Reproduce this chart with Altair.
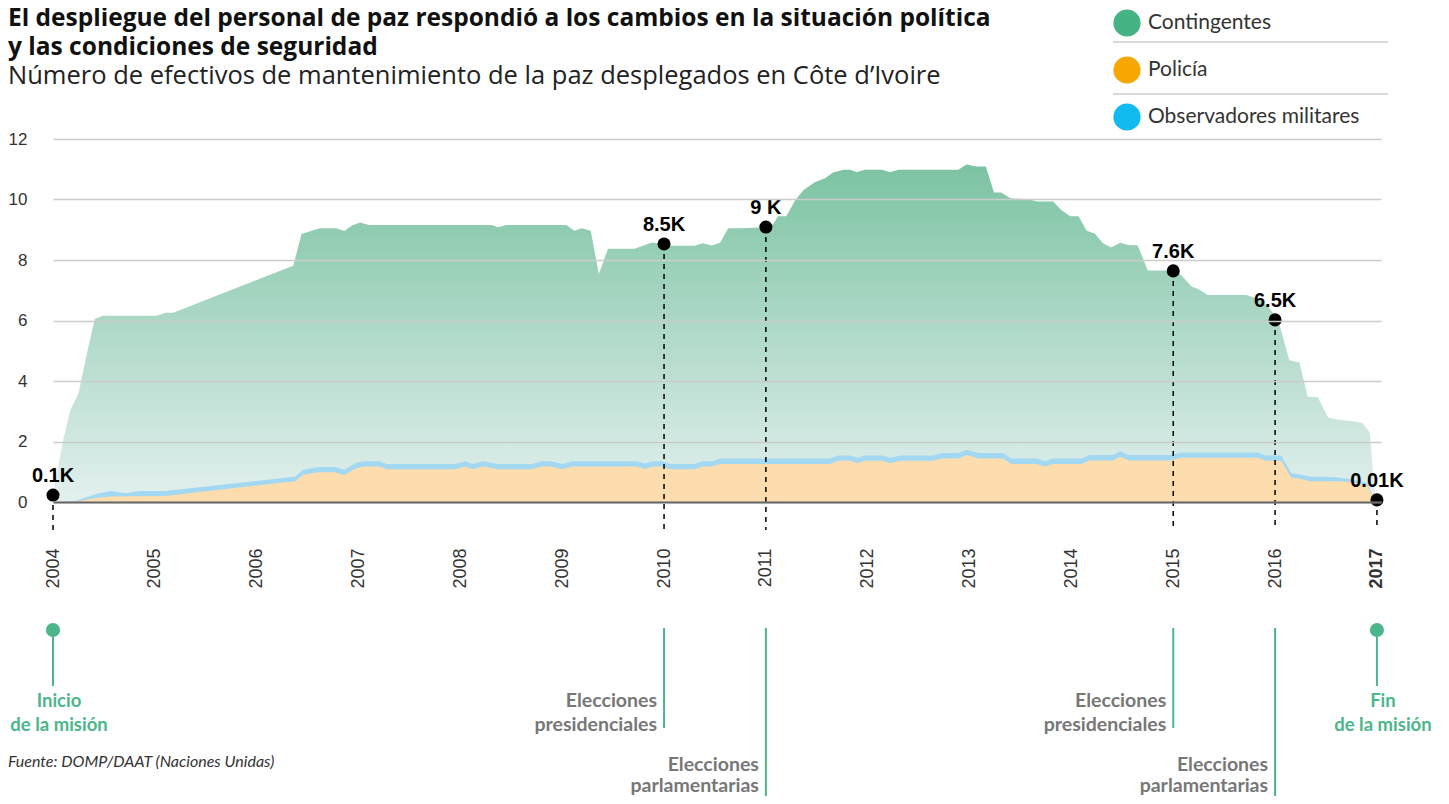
import altair as alt
import pandas as pd

# ---------------- data ----------------
total_years = [2004.00, 2004.10, 2004.17, 2004.25, 2004.34, 2004.41, 2004.49, 2005.02, 2005.10, 2005.18,
               2006.36, 2006.44, 2006.62, 2006.78, 2006.86, 2006.94, 2007.02, 2007.10, 2008.31, 2008.37,
               2008.45, 2009.04, 2009.12, 2009.19, 2009.28, 2009.36, 2009.45, 2009.71, 2009.88, 2010.00,
               2010.04, 2010.30, 2010.38, 2010.47, 2010.55, 2010.63, 2010.78, 2011.00, 2011.05, 2011.12,
               2011.20, 2011.29, 2011.37, 2011.48, 2011.58, 2011.66, 2011.76, 2011.83, 2011.89, 2011.97,
               2012.14, 2012.22, 2012.30, 2012.89, 2012.97, 2013.07, 2013.16, 2013.24, 2013.31, 2013.40,
               2013.58, 2013.66, 2013.82, 2013.90, 2013.99, 2014.07, 2014.15, 2014.23, 2014.31, 2014.39,
               2014.48, 2014.57, 2014.65, 2014.75, 2015.00, 2015.08, 2015.18, 2015.25, 2015.34, 2015.72,
               2015.82, 2015.93, 2016.03, 2016.14, 2016.24, 2016.32, 2016.42, 2016.52, 2016.61, 2016.80,
               2016.86, 2016.93, 2016.98, 2017.00]
total_values = [0.23, 2.05, 3.04, 3.59, 5.02, 6.05, 6.16, 6.16, 6.26, 6.26,
                7.81, 8.86, 9.05, 9.05, 8.96, 9.15, 9.24, 9.16, 9.16, 9.08,
                9.16, 9.16, 8.97, 9.05, 8.97, 7.54, 8.37, 8.37, 8.58, 8.53,
                8.47, 8.47, 8.55, 8.48, 8.57, 9.05, 9.05, 9.09, 9.08, 9.45,
                9.45, 9.98, 10.31, 10.57, 10.70, 10.89, 10.98, 10.98, 10.90, 10.98,
                10.98, 10.90, 10.98, 10.98, 11.16, 11.09, 11.09, 10.23, 10.23, 10.04,
                10.01, 9.93, 9.93, 9.65, 9.45, 9.45, 8.97, 8.88, 8.55, 8.41,
                8.57, 8.49, 8.49, 7.65, 7.65, 7.50, 7.12, 7.03, 6.84, 6.84,
                6.73, 6.46, 6.02, 4.69, 4.61, 3.48, 3.46, 2.79, 2.73, 2.65,
                2.60, 2.30, 0.23, 0.07]

police_years = [2004.00, 2004.20, 2004.45, 2004.57, 2004.72, 2004.85, 2005.10, 2006.38, 2006.45, 2006.60,
                2006.77, 2006.86, 2006.97, 2007.05, 2007.20, 2007.28, 2007.95, 2008.05, 2008.12, 2008.22,
                2008.37, 2008.70, 2008.80, 2008.89, 2009.00, 2009.10, 2009.73, 2009.81, 2009.89, 2009.98,
                2010.06, 2010.30, 2010.38, 2010.47, 2010.55, 2011.63, 2011.71, 2011.83, 2011.90, 2011.97,
                2012.15, 2012.22, 2012.32, 2012.64, 2012.73, 2012.89, 2012.97, 2013.09, 2013.33, 2013.41,
                2013.66, 2013.74, 2013.82, 2014.10, 2014.18, 2014.41, 2014.48, 2014.56, 2014.98, 2015.07,
                2015.83, 2015.91, 2016.06, 2016.16, 2016.24, 2016.34, 2016.57, 2016.72, 2016.90, 2016.98,
                2017.00]
police_values = [0.00, 0.00, 0.15, 0.18, 0.19, 0.19, 0.20, 0.69, 0.89, 0.98,
                 0.98, 0.89, 1.11, 1.17, 1.17, 1.08, 1.08, 1.17, 1.08, 1.17,
                 1.08, 1.08, 1.17, 1.17, 1.08, 1.17, 1.17, 1.09, 1.17, 1.17,
                 1.08, 1.08, 1.17, 1.17, 1.26, 1.26, 1.36, 1.36, 1.28, 1.36,
                 1.36, 1.28, 1.36, 1.36, 1.44, 1.44, 1.55, 1.44, 1.44, 1.26,
                 1.26, 1.17, 1.26, 1.26, 1.37, 1.37, 1.50, 1.37, 1.37, 1.46,
                 1.46, 1.36, 1.36, 0.80, 0.78, 0.69, 0.69, 0.67, 0.56, 0.07,
                 0.00]
observer_values = [0.00, 0.02, 0.14, 0.18, 0.10, 0.17, 0.16, 0.15, 0.17, 0.18,
                   0.18, 0.18, 0.18, 0.18, 0.18, 0.18, 0.18, 0.18, 0.18, 0.18,
                   0.18, 0.18, 0.18, 0.18, 0.18, 0.18, 0.18, 0.18, 0.18, 0.18,
                   0.18, 0.18, 0.18, 0.18, 0.18, 0.18, 0.18, 0.18, 0.18, 0.18,
                   0.18, 0.18, 0.18, 0.18, 0.18, 0.18, 0.18, 0.18, 0.18, 0.18,
                   0.18, 0.18, 0.18, 0.18, 0.18, 0.18, 0.18, 0.18, 0.18, 0.18,
                   0.18, 0.18, 0.18, 0.15, 0.13, 0.15, 0.14, 0.10, 0.08, 0.00,
                   0.00]

event_years = [2004, 2010, 2011, 2015, 2016, 2017]
event_values = [0.23, 8.53, 9.09, 7.64, 6.02, 0.07]
event_labels = ["0.1K", "8.5K", "9 K", "7.6K", "6.5K", "0.01K"]

mission_years = [2004, 2017]
mission_labels = ["Inicio\nde la misión", "Fin\nde la misión"]

pres_years = [2010, 2015]
pres_labels = ["Elecciones\npresidenciales", "Elecciones\npresidenciales"]
parl_years = [2011, 2016]
parl_labels = ["Elecciones\nparlamentarias", "Elecciones\nparlamentarias"]

series_names = ["Contingentes", "Policía", "Observadores militares"]
series_colors = ["#45b384", "#f6a800", "#10bcef"]

year_ticks = list(range(2004, 2018))
value_ticks = [0, 2, 4, 6, 8, 10, 12]

title_text = "El despliegue del personal de paz respondió a los cambios en la situación política\ny las condiciones de seguridad"
subtitle_text = "Número de efectivos de mantenimiento de la paz desplegados en Côte d’Ivoire"
source_text = "Fuente: DOMP/DAAT (Naciones Unidas)"

# ---------------- tables ----------------
total_df = pd.DataFrame({"year": total_years, "value": total_values})
police_df = pd.DataFrame({"year": police_years, "value": police_values, "obs": observer_values})
police_df["top"] = police_df["value"] + police_df["obs"]
events_df = pd.DataFrame({"year": event_years, "value": event_values, "label": event_labels})
mission_df = pd.DataFrame({"year": mission_years, "label": mission_labels})
pres_df = pd.DataFrame({"year": pres_years, "label": pres_labels})
parl_df = pd.DataFrame({"year": parl_years, "label": parl_labels})
series_df = pd.DataFrame({"series": series_names})
one_df = pd.DataFrame({"k": [0]})

W, H = 1328, 363
SANS = "Liberation Sans"
PN = "Lato"
HEAD = "Open Sans"

xs = alt.Scale(domain=[2004, 2017.04], nice=False, zero=False)
ys = alt.Scale(domain=[0, 12], nice=False)

xaxis = alt.Axis(values=year_ticks, format="d", labelAngle=270, title=None, ticks=False,
                 grid=False, labelPadding=46, labelFont=SANS, labelFontSize=18,
                 labelColor="#333333", domainColor="#666666", domainWidth=2, zindex=1,
                 labelFontWeight=alt.ExprRef(expr="datum.value == 2017 ? 'bold' : 'normal'"))
yaxis = alt.Axis(values=value_ticks, title=None, ticks=False, domain=False, grid=True,
                 gridColor="#cccccc", gridWidth=1.5, labelPadding=26, labelFont=SANS,
                 labelFontSize=17, labelColor="#333333", zindex=1)

X = alt.X("year:Q", scale=xs, axis=xaxis)

green = alt.Chart(total_df).mark_area(
    color=alt.Gradient(gradient="linear",
                       stops=[alt.GradientStop(color="#7cc3a2", offset=0),
                              alt.GradientStop(color="#e3f0ef", offset=1)],
                       x1=1, x2=1, y1=0, y2=1)
).encode(x=X, y=alt.Y("value:Q", scale=ys, axis=yaxis))

blue = alt.Chart(police_df).mark_area(color="#a3d8f3").encode(
    x=X, y=alt.Y("top:Q", scale=ys, axis=yaxis))
orange = alt.Chart(police_df).mark_area(color="#fddcae").encode(
    x=X, y=alt.Y("value:Q", scale=ys, axis=yaxis))

dash = alt.Chart(events_df).mark_rule(color="black", strokeDash=[5, 5], strokeWidth=1.5).encode(
    x=X, y=alt.Y("value:Q", scale=ys, axis=yaxis), y2=alt.value(H + 28))
dots = alt.Chart(events_df).mark_point(filled=True, color="black", opacity=1, size=170).encode(
    x=X, y=alt.Y("value:Q", scale=ys, axis=yaxis))
labels = alt.Chart(events_df).mark_text(dy=-13, font=SANS, fontSize=20, fontWeight="bold",
                                        color="black", baseline="alphabetic").encode(
    x=X, y=alt.Y("value:Q", scale=ys, axis=yaxis), text="label:N")

GREEN_T = "#4cb68b"
ANN = 19.5
m_line = alt.Chart(mission_df).mark_rule(color=GREEN_T, strokeWidth=2).encode(
    x=X, y=alt.value(491), y2=alt.value(547))
m_dot = alt.Chart(mission_df).mark_point(filled=True, color=GREEN_T, opacity=1, size=200).encode(
    x=X, y=alt.value(491))
m_text = alt.Chart(mission_df).mark_text(font=PN, fontSize=18.5, fontWeight="bold", color=GREEN_T,
                                         align="center", dx=6, baseline="alphabetic", lineBreak="\n",
                                         lineHeight=24).encode(
    x=X, y=alt.value(568), text="label:N")

p_line = alt.Chart(pres_df).mark_rule(color=GREEN_T, strokeWidth=2).encode(
    x=X, y=alt.value(489), y2=alt.value(589))
p_text = alt.Chart(pres_df).mark_text(font=PN, fontSize=ANN, fontWeight="bold", color="#777777",
                                      align="right", dx=-7, baseline="alphabetic", lineBreak="\n",
                                      lineHeight=24).encode(
    x=X, y=alt.value(568), text="label:N")
q_line = alt.Chart(parl_df).mark_rule(color=GREEN_T, strokeWidth=2).encode(
    x=X, y=alt.value(489), y2=alt.value(661))
q_text = alt.Chart(parl_df).mark_text(font=PN, fontSize=ANN, fontWeight="bold", color="#777777",
                                      align="right", dx=-7, baseline="alphabetic", lineBreak="\n",
                                      lineHeight=21).encode(
    x=X, y=alt.value(632), text="label:N")

source = alt.Chart(one_df).mark_text(font=PN, fontSize=16, fontStyle="italic", color="#333333",
                                     align="left", baseline="alphabetic").encode(
    x=alt.value(-45), y=alt.value(628), text=alt.value(source_text))

title = alt.Chart(one_df).mark_text(font=HEAD, fontSize=24.5, fontWeight="bold", color="#111111",
                                    align="left", baseline="alphabetic", lineBreak="\n",
                                    lineHeight=29).encode(
    x=alt.value(-45), y=alt.value(-113), text=alt.value(title_text))
subtitle = alt.Chart(one_df).mark_text(font=HEAD, fontSize=25.5, color="#222222",
                                       align="left", baseline="alphabetic").encode(
    x=alt.value(-45), y=alt.value(-55), text=alt.value(subtitle_text))

sep1 = alt.Chart(one_df).mark_rule(color="#cccccc", strokeWidth=1.5).encode(
    x=alt.value(1060), x2=alt.value(1335), y=alt.value(-97))
sep2 = alt.Chart(one_df).mark_rule(color="#cccccc", strokeWidth=1.5).encode(
    x=alt.value(1060), x2=alt.value(1335), y=alt.value(-45))

legend_layer = alt.Chart(series_df).mark_point(filled=True, opacity=0, shape="circle").encode(
    x=alt.value(0), y=alt.value(0),
    color=alt.Color("series:N", scale=alt.Scale(domain=series_names, range=series_colors),
                    legend=alt.Legend(orient="none", legendX=1060, legendY=-130, title=None,
                                      direction="vertical", symbolType="circle", symbolSize=740,
                                      symbolOpacity=1, symbolStrokeWidth=0, labelFont=PN,
                                      labelFontSize=21, labelColor="#333333", labelOffset=7,
                                      rowPadding=19, labelLimit=400)))

chart = alt.layer(
    green, blue, orange, dash, dots, labels,
    m_line, m_dot, m_text, p_line, p_text, q_line, q_text, source, title, subtitle,
    sep1, sep2, legend_layer
).properties(
    width=W, height=H,
    autosize=alt.AutoSizeParams(type="none"),
    padding={"left": 45, "top": 131, "right": 60, "bottom": 294},
).configure_view(stroke=None)

chart.save("out.html", embed_options={"renderer": "svg", "actions": False})
